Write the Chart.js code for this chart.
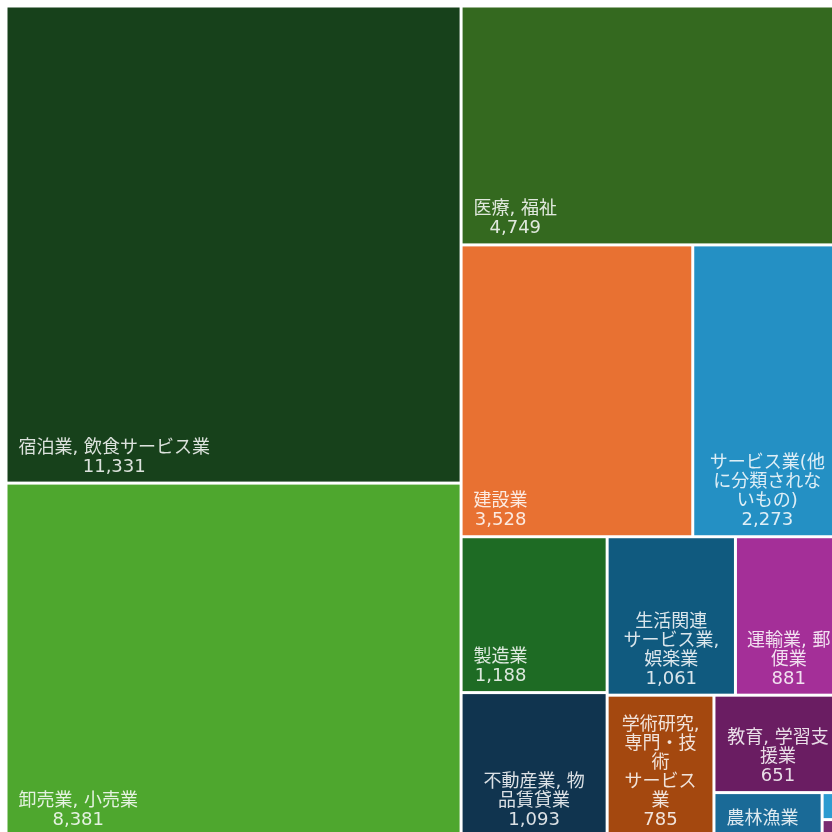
<!DOCTYPE html>
<html>
<head>
<meta charset="utf-8">
<script src="https://cdn.jsdelivr.net/npm/chart.js@4.4.1/dist/chart.umd.min.js"></script>
<style>
    html, body { margin: 0; padding: 0; background: #fff; overflow: hidden; }
    #wrap { position: absolute; left: 0; top: 0; width: 850px; height: 845px; }
</style>
</head>
<body>
<div id="wrap"><canvas id="myChart"></canvas></div>
<script>
// Industry categories and establishment counts
const industries = [
    '宿泊業, 飲食サービス業',
    '卸売業, 小売業',
    '医療, 福祉',
    '建設業',
    'サービス業(他に分類されないもの)',
    '製造業',
    '不動産業, 物品賃貸業',
    '生活関連サービス業, 娯楽業',
    '運輸業, 郵便業',
    '学術研究, 専門・技術サービス業',
    '教育, 学習支援業',
    '農林漁業',
    '情報通信業',
    '金融業, 保険業'
];
const counts = [11331, 8381, 4749, 3528, 2273, 1188, 1093, 1061, 881, 785, 651, 245, 28, 17];
const tileColors = [
    '#17411b', '#4ea72e', '#34691f', '#e87132', '#2490c4', '#1e6b24', '#10344f',
    '#105a7f', '#a42f98', '#a4480f', '#6a1d62', '#1a6a97', '#2c9bd0', '#7a2a70'
];

// Squarified layout (rows chosen to keep tiles close to square)
function squarify(values, x0, y0, x1, y1) {
    const rects = [];
    let value = values.reduce((a, b) => a + b, 0);
    let i0 = 0, i1 = 0;
    const n = values.length;
    while (i0 < n) {
        const dx = x1 - x0, dy = y1 - y0;
        let sum = values[i1++];
        let minV = sum, maxV = sum;
        const alpha = Math.max(dy / dx, dx / dy) / value;
        let beta = sum * sum * alpha;
        let minRatio = Math.max(maxV / beta, beta / minV);
        for (; i1 < n; ++i1) {
            const v = values[i1];
            sum += v;
            if (v < minV) minV = v;
            if (v > maxV) maxV = v;
            beta = sum * sum * alpha;
            const r = Math.max(maxV / beta, beta / minV);
            if (r > minRatio) { sum -= v; break; }
            minRatio = r;
        }
        if (dx < dy) {
            // row across the top
            const h = dy * sum / value;
            let x = x0;
            for (let i = i0; i < i1; i++) {
                const w = dx * values[i] / sum;
                rects.push({ i: i, x0: x, y0: y0, x1: x + w, y1: y0 + h });
                x += w;
            }
            y0 += h;
        } else {
            // column down the left
            const w = dx * sum / value;
            let y = y0;
            for (let i = i0; i < i1; i++) {
                const h = dy * values[i] / sum;
                rects.push({ i: i, x0: x0, y0: y, x1: x0 + w, y1: y + h });
                y += h;
            }
            x0 += w;
        }
        value -= sum;
        i0 = i1;
    }
    return rects;
}

// Break a label into lines; katakana runs stay together
function wrapLabel(ctx, text, maxW) {
    const tokens = text.match(/[\u30A1-\u30FA\u30FC]+|./gu) || [];
    const lines = [];
    let cur = '';
    tokens.forEach(tok => {
        if (tok === ' ' && cur === '') return;
        const test = cur + tok;
        const noBreak = /^[,、，)）]$/.test(tok);
        if (!noBreak && cur !== '' && ctx.measureText(test.trimEnd()).width > maxW) {
            lines.push(cur.trimEnd());
            cur = tok === ' ' ? '' : tok;
        } else {
            cur = test;
        }
    });
    if (cur.trim() !== '') lines.push(cur.trimEnd());
    return lines;
}

const treemapTiles = {
    id: 'treemapTiles',
    afterDatasetsDraw(chart, args, opts) {
        const ctx = chart.ctx;
        const xs = chart.scales.x, ys = chart.scales.y;
        const W = chart.chartArea.width, H = chart.chartArea.height;
        const tiles = squarify(opts.values, 0, 0, W, H);
        const gap = 1.5;
        const font = '18px "DejaVu Sans", "Noto Sans CJK JP", sans-serif';
        const lineH = 19;
        const ascent = 14;

        tiles.forEach(t => {
            const left = xs.getPixelForValue(t.x0 / W) + gap;
            const right = xs.getPixelForValue(t.x1 / W) - gap;
            const top = ys.getPixelForValue(t.y0 / H) + gap;
            const bottom = ys.getPixelForValue(t.y1 / H) - gap;
            const w = right - left, h = bottom - top;
            if (w <= 0 || h <= 0) return;

            ctx.save();
            ctx.fillStyle = opts.colors[t.i];
            ctx.fillRect(left, top, w, h);
            if (w < 24) { ctx.restore(); return; }
            ctx.beginPath();
            ctx.rect(left, top, w, h);
            ctx.clip();

            ctx.font = font;
            ctx.fillStyle = 'rgba(255,255,255,0.85)';
            ctx.textBaseline = 'alphabetic';
            ctx.textAlign = 'center';
            const labelLines = wrapLabel(ctx, opts.labels[t.i], w * 0.82);
            const lines = labelLines.concat([opts.values[t.i].toLocaleString('en-US')]);
            const blockW = Math.max(...lines.map(l => ctx.measureText(l).width));
            const pad = 11;
            let cx;
            if (labelLines.length === 1 && blockW <= w - 2 * pad) {
                cx = left + pad + blockW / 2;
            } else {
                cx = left + w / 2;
            }
            // anchor at the bottom, or at the top if the block does not fit
            let y = bottom - 10 - (lines.length - 1) * lineH;
            if (y - ascent < top + 10) y = top + 16 + ascent;
            lines.forEach(l => {
                if (y <= bottom - 2) ctx.fillText(l, cx, y);
                y += lineH;
            });
            ctx.restore();
        });
    }
};

const ctx = document.getElementById('myChart').getContext('2d');
const chart = new Chart(ctx, {
    type: 'scatter',
    data: { datasets: [] },
    options: {
        responsive: true,
        maintainAspectRatio: false,
        animation: false,
        layout: { padding: { left: 6, top: 6, right: 8, bottom: 9 } },
        scales: {
            x: { type: 'linear', min: 0, max: 1, display: false },
            y: { type: 'linear', min: 0, max: 1, reverse: true, display: false }
        },
        plugins: {
            legend: { display: false },
            tooltip: { enabled: false },
            treemapTiles: { labels: industries, values: counts, colors: tileColors }
        }
    },
    plugins: [treemapTiles]
});
</script>
</body>
</html>
